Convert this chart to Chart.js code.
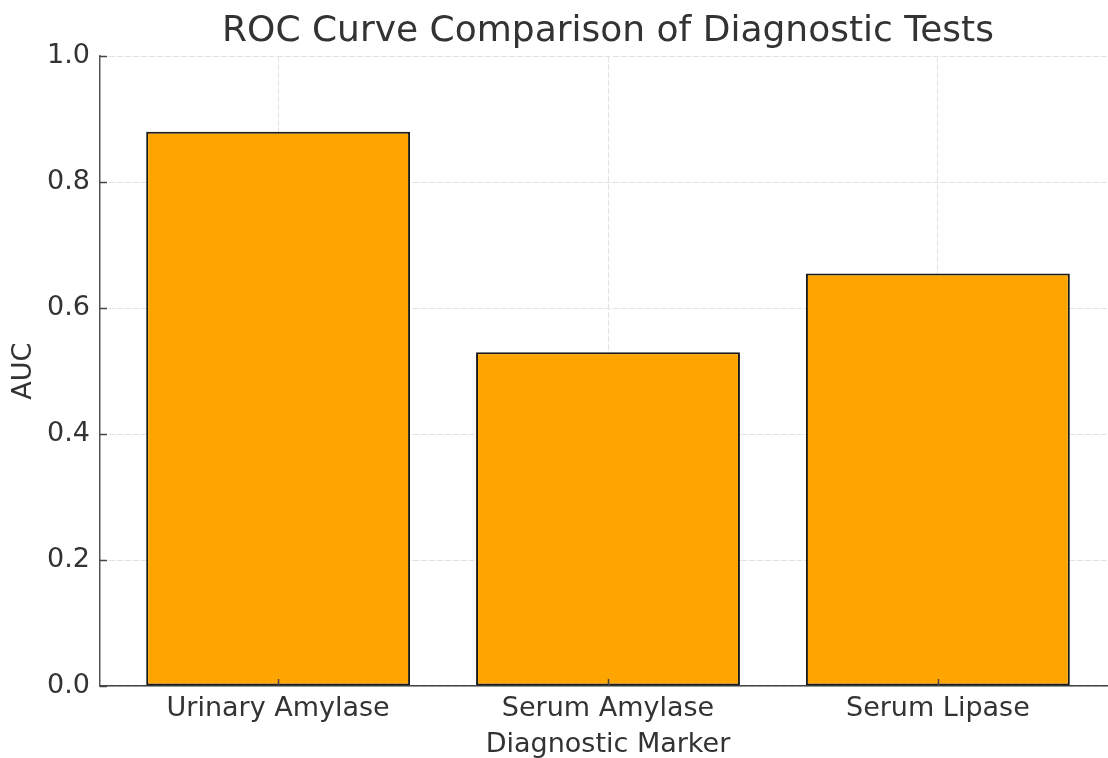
<!DOCTYPE html>
<html>
<head>
<meta charset="utf-8">
<title>ROC Curve Comparison</title>
<script src="https://cdn.jsdelivr.net/npm/chart.js@4.4.1/dist/chart.umd.min.js"></script>
<style>
  html, body { margin: 0; padding: 0; background: #fff; overflow: hidden; }
  #chart { display: block; }
</style>
</head>
<body>
<canvas id="chart" width="1217" height="758"></canvas>
<script>
// data
const markers = ["Urinary Amylase", "Serum Amylase", "Serum Lipase"];
const aucValues = [0.88, 0.53, 0.655];
const yTicks = [0, 0.2, 0.4, 0.6, 0.8, 1.0];

const FONT = "'DejaVu Sans', sans-serif";
const TEXT = "#333333";

// matplotlib-style inward tick marks, drawn over the bars
const inwardTicks = {
  id: "inwardTicks",
  afterDatasetsDraw(chart) {
    const { ctx, chartArea, scales } = chart;
    ctx.save();
    ctx.strokeStyle = "#444";
    ctx.lineWidth = 1.5;
    ctx.beginPath();
    yTicks.forEach((v) => {
      const y = Math.round(scales.y.getPixelForValue(v)) + 0.5;
      ctx.moveTo(chartArea.left, y);
      ctx.lineTo(chartArea.left + 7, y);
    });
    markers.forEach((m, i) => {
      const x = Math.round(scales.x.getPixelForValue(i)) + 0.5;
      ctx.moveTo(x, chartArea.bottom);
      ctx.lineTo(x, chartArea.bottom - 7);
    });
    ctx.stroke();
    ctx.restore();
  },
};

const ctx = document.getElementById("chart").getContext("2d");
new Chart(ctx, {
  type: "bar",
  data: {
    datasets: [{
      label: "AUC",
      data: markers.map((m, i) => ({ x: i, y: aucValues[i] })),
      backgroundColor: "#FFA500",
      borderColor: "#1a1a1a",
      borderWidth: 2,
      borderSkipped: false,
      categoryPercentage: 1,
      barPercentage: 0.8,
    }],
  },
  options: {
    responsive: false,
    devicePixelRatio: 1,
    animation: false,
    // the plot's right end lies past the page edge, as in the reference
    layout: { padding: { left: 0, right: 101, top: 0, bottom: 0 } },
    plugins: {
      legend: { display: false },
      tooltip: { enabled: false },
      title: {
        display: true,
        fullSize: false,
        text: "ROC Curve Comparison of Diagnostic Tests",
        color: TEXT,
        font: { family: FONT, size: 36, weight: "normal" },
        padding: { top: 10, bottom: 3 },
      },
    },
    scales: {
      x: {
        type: "linear",
        offset: false,
        min: -0.54,
        max: 2.54,
        afterBuildTicks: (scale) => { scale.ticks = markers.map((m, i) => ({ value: i })); },
        afterFit: (scale) => { scale.height = 72; },
        ticks: {
          callback: (v) => markers[v] ?? "",
          color: TEXT,
          font: { family: FONT, size: 27 },
          padding: 7,
          maxRotation: 0,
          autoSkip: false,
        },
        grid: { color: "#e2e2e2", lineWidth: 1, drawTicks: false, offset: false },
        border: { color: "#444", width: 1.5, dash: [6, 2] },
        title: {
          display: true,
          text: "Diagnostic Marker",
          color: TEXT,
          font: { family: FONT, size: 27, lineHeight: 1 },
          padding: { top: 0, bottom: 0 },
        },
      },
      y: {
        min: 0,
        max: 1,
        afterBuildTicks: (scale) => { scale.ticks = yTicks.map((v) => ({ value: v })); },
        afterFit: (scale) => { scale.width = 100; },
        ticks: {
          callback: (v) => v.toFixed(1),
          color: TEXT,
          font: { family: FONT, size: 27 },
          padding: 10,
        },
        grid: { color: "#e2e2e2", lineWidth: 1, drawTicks: false },
        border: { color: "#555", width: 1.5, dash: [6, 2] },
        title: {
          display: true,
          text: "AUC",
          color: TEXT,
          font: { family: FONT, size: 27 },
          padding: { top: 8, bottom: 0 },
        },
      },
    },
  },
  plugins: [inwardTicks],
});
</script>
</body>
</html>
